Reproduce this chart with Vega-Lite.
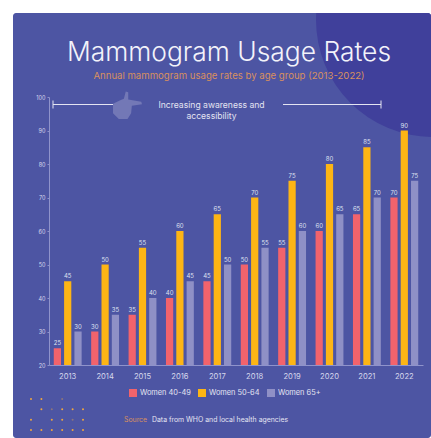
{"$schema":"https://vega.github.io/schema/vega-lite/v6.json",
"width":418,"height":425,"autosize":"none","padding":{"left":13,"top":13,"right":0,"bottom":0},
"background":"#ffffff",
"view":{"fill":"#4d55a3","stroke":null,"cornerRadius":3},
"config":{"font":"Inter"},
"title":{"text":"Mammogram Usage Rates","subtitle":"Annual mammogram usage rates by age group (2013-2022)","anchor":"middle","frame":"group","offset":-68,"color":"#f3f3fa","fontSize":26.4,"fontWeight":300,"font":"Inter","subtitleColor":"#d8905f","subtitleFontSize":9.6,"subtitleFont":"Inter","subtitlePadding":5,"dx":7},
"datasets":{"rates":[
{"year":"2013","group":"Women 40-49","rate":25},{"year":"2013","group":"Women 50-64","rate":45},{"year":"2013","group":"Women 65+","rate":30},
{"year":"2014","group":"Women 40-49","rate":30},{"year":"2014","group":"Women 50-64","rate":50},{"year":"2014","group":"Women 65+","rate":35},
{"year":"2015","group":"Women 40-49","rate":35},{"year":"2015","group":"Women 50-64","rate":55},{"year":"2015","group":"Women 65+","rate":40},
{"year":"2016","group":"Women 40-49","rate":40},{"year":"2016","group":"Women 50-64","rate":60},{"year":"2016","group":"Women 65+","rate":45},
{"year":"2017","group":"Women 40-49","rate":45},{"year":"2017","group":"Women 50-64","rate":65},{"year":"2017","group":"Women 65+","rate":50},
{"year":"2018","group":"Women 40-49","rate":50},{"year":"2018","group":"Women 50-64","rate":70},{"year":"2018","group":"Women 65+","rate":55},
{"year":"2019","group":"Women 40-49","rate":55},{"year":"2019","group":"Women 50-64","rate":75},{"year":"2019","group":"Women 65+","rate":60},
{"year":"2020","group":"Women 40-49","rate":60},{"year":"2020","group":"Women 50-64","rate":80},{"year":"2020","group":"Women 65+","rate":65},
{"year":"2021","group":"Women 40-49","rate":65},{"year":"2021","group":"Women 50-64","rate":85},{"year":"2021","group":"Women 65+","rate":70},
{"year":"2022","group":"Women 40-49","rate":70},{"year":"2022","group":"Women 50-64","rate":90},{"year":"2022","group":"Women 65+","rate":75}],
"one":[{"k":1}],
"dots":[{"c":0,"r":0,"o":1},{"c":1,"r":0,"o":1},{"c":3,"r":0,"o":0.4},
{"c":1,"r":1,"o":1},{"c":2,"r":1,"o":0.4},{"c":3,"r":1,"o":1},{"c":4,"r":1,"o":1},{"c":5,"r":1,"o":1},
{"c":0,"r":2,"o":1},{"c":2,"r":2,"o":1},{"c":3,"r":2,"o":1},{"c":4,"r":2,"o":0.4},{"c":5,"r":2,"o":1},
{"c":0,"r":3,"o":1},{"c":1,"r":3,"o":1},{"c":2,"r":3,"o":1},{"c":3,"r":3,"o":1},{"c":4,"r":3,"o":1},{"c":5,"r":3,"o":1}]},
"layer":[
{"data":{"name":"one"},"mark":{"type":"point","filled":true,"clip":true,"shape":"circle","size":54756,"x":420,"y":7,"color":"#40409b","opacity":1},"encoding":{}},
{"data":{"name":"one"},"mark":{"type":"rule","color":"#e4e4f2","strokeWidth":1},"encoding":{"x":{"value":40},"x2":{"value":100},"y":{"value":91.5}}},
{"data":{"name":"one"},"mark":{"type":"rule","color":"#e4e4f2","strokeWidth":1},"encoding":{"x":{"value":270},"x2":{"value":368},"y":{"value":91.5}}},
{"data":{"name":"one"},"mark":{"type":"rule","color":"#e4e4f2","strokeWidth":1},"encoding":{"x":{"value":40},"y":{"value":87.5},"y2":{"value":95.5}}},
{"data":{"name":"one"},"mark":{"type":"rule","color":"#e4e4f2","strokeWidth":1},"encoding":{"x":{"value":368},"y":{"value":87.5},"y2":{"value":95.5}}},
{"data":{"name":"one"},"mark":{"type":"point","filled":true,"opacity":1,"color":"#7378b6","size":840,"x":114.5,"y":93,"shape":"M -1 -0.15 L -0.5 -0.4 L -0.25 -0.5 L -0.12 -1 L 0.05 -0.95 L 0.05 -0.45 L 0.95 -0.3 L 1 -0.12 L 0.3 -0.02 L 0.25 0.5 L 0 0.9 L -0.6 0.9 L -1 0.5 Z"},"encoding":{}},
{"data":{"name":"one"},"mark":{"type":"text","color":"#e4e4f2","fontSize":8.6,"align":"center","baseline":"middle","lineHeight":11,"x":198.5,"y":92,"text":["Increasing awareness and","accessibility"]},"encoding":{}},
{"data":{"name":"one"},"mark":{"type":"text","color":"#d8905f","fontSize":6.9,"align":"left","baseline":"middle","x":111,"y":407,"text":"Source"},"encoding":{}},
{"data":{"name":"one"},"mark":{"type":"text","color":"#e4e4f2","fontSize":6.9,"align":"left","baseline":"middle","x":139,"y":407,"text":"Data from WHO and local health agencies"},"encoding":{}},
{"data":{"name":"dots"},"mark":{"type":"point","filled":true,"size":4,"color":"#f0a63c"},
 "encoding":{"x":{"field":"c","type":"quantitative","scale":{"domain":[0,5],"range":[18,70]},"axis":null},
 "y":{"field":"r","type":"quantitative","scale":{"domain":[0,3],"range":[386,417]},"axis":null},
 "opacity":{"field":"o","type":"quantitative","scale":null,"legend":null}}},
{"data":{"name":"rates"},"layer":[
 {"mark":{"type":"bar"},"encoding":{"y2":{"datum":20}}},
 {"mark":{"type":"text","fontSize":6,"baseline":"bottom","dy":-2},"encoding":{"color":{"value":"#dfe0f0"},"text":{"field":"rate","type":"quantitative"}}}],
 "encoding":{
 "x":{"field":"year","type":"nominal","scale":{"range":[36,410],"paddingInner":0.255,"paddingOuter":0.1275},
  "axis":{"title":null,"labelAngle":0,"labelColor":"#d6d7ec","labelFontSize":7.6,"domainColor":"#8f93cb","tickColor":"#8f93cb","tickSize":0,"labelPadding":7,"offset":-73,"grid":false}},
 "xOffset":{"field":"group","type":"nominal","scale":{"paddingInner":0.3,"paddingOuter":0}},
 "y":{"field":"rate","type":"quantitative","scale":{"domain":[20,100],"range":[352,84],"nice":false},
  "axis":{"title":null,"values":[20,30,40,50,60,70,80,90,100],"labelColor":"#d6d7ec","labelFontSize":5.5,"domainColor":"#8f93cb","tickColor":"#8f93cb","tickSize":2,"labelPadding":2,"offset":-36,"grid":false}},
 "color":{"field":"group","type":"nominal","scale":{"domain":["Women 40-49","Women 50-64","Women 65+"],"range":["#f2636c","#fdb515","#8f90c6"]},
  "legend":{"title":null,"orient":"none","legendX":116,"legendY":376,"direction":"horizontal","symbolType":"square","symbolSize":64,"symbolStrokeWidth":0,"symbolOpacity":1,"labelColor":"#e4e4f2","labelFontSize":7.4,"columnPadding":7,"labelOffset":3}}}}
],
"resolve":{"scale":{"x":"independent","y":"independent"},"axis":{"x":"independent","y":"independent"}}}
